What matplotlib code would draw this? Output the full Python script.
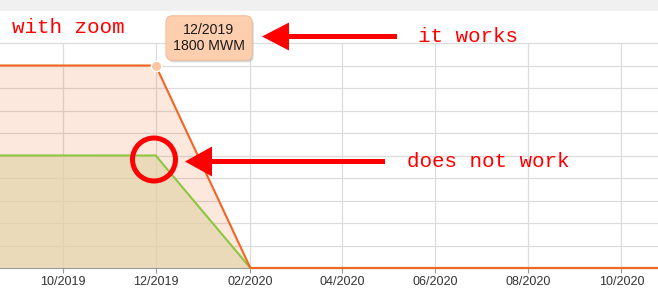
#!/usr/bin/env python

"""
Stacked area chart with a tooltip and hand-drawn notes
"""

import datetime as dt
import matplotlib
matplotlib.use('Agg')
import matplotlib.pyplot as plt
import matplotlib.dates as mdates
import matplotlib.patches as mpatches
import matplotlib.patheffects as pe


# data (bimonthly points)
dates = [dt.date(2019, 8, 1), dt.date(2019, 10, 1), dt.date(2019, 12, 1),
         dt.date(2020, 2, 1), dt.date(2020, 4, 1), dt.date(2020, 6, 1),
         dt.date(2020, 8, 1), dt.date(2020, 10, 1), dt.date(2020, 12, 1)]
orange_vals = [1800, 1800, 1800, 0, 0, 0, 0, 0, 0]
green_vals = [1000, 1000, 1000, 0, 0, 0, 0, 0, 0]
unit = 'MWM'
hover_idx = 2

notes = ['with zoom', 'it works', 'does not work']

W, H = 658, 300
ORANGE = '#f26522'
GREEN = '#8dc63f'


def fx(x):
    return x / W


def fy(y):
    # pixel row from top -> figure fraction
    return 1 - y / H


if __name__ == "__main__":
    plt.rcParams['font.family'] = ['Liberation Sans', 'DejaVu Sans']
    fig = plt.figure(figsize=(W / 100, H / 100), dpi=100)

    # grey strip at the very top
    fig.patches.append(mpatches.Rectangle((0, fy(11)), 1, 11 / H, transform=fig.transFigure,
                                          facecolor='#f0f0f0', edgecolor='none', zorder=0))

    ax = fig.add_axes([0, (H - 268) / H, 1, 225 / H])
    ax.set_xlim(dt.date(2019, 8, 21), dt.date(2020, 10, 25))
    ax.set_ylim(0, 2000)

    for v in range(200, 2001, 200):
        ax.axhline(v, color='#dcdcdc', lw=0.9, zorder=0.5, clip_on=False)
    loc = mdates.MonthLocator(bymonth=[2, 4, 6, 8, 10, 12])
    ax.xaxis.set_major_locator(loc)
    ax.xaxis.set_major_formatter(mdates.DateFormatter('%m/%Y'))
    for d in [dt.date(2019, 10, 1), dt.date(2019, 12, 1), dt.date(2020, 2, 1),
              dt.date(2020, 4, 1), dt.date(2020, 6, 1), dt.date(2020, 8, 1),
              dt.date(2020, 10, 1)]:
        ax.axvline(d, color='#dcdcdc', lw=0.9, zorder=0.5)

    ax.fill_between(dates, orange_vals, color=ORANGE, alpha=0.15, lw=0, zorder=1)
    ax.fill_between(dates, green_vals, color='#e2d5ac', alpha=0.7, lw=0, zorder=1.2)
    ax.plot(dates, green_vals, color=GREEN, lw=1.5, zorder=3, clip_on=False)
    ax.plot(dates, orange_vals, color=ORANGE, lw=1.5, zorder=3.2, clip_on=False)
    ax.plot([dates[hover_idx]], [orange_vals[hover_idx]], 'o', ms=7.5, mfc='#fcc4a0',
            mec='white', mew=1, zorder=4, clip_on=False)

    ax.set_yticks([])
    for s in ['left', 'right', 'top']:
        ax.spines[s].set_visible(False)
    ax.spines['bottom'].set_color('#999999')
    ax.spines['bottom'].set_zorder(2)
    ax.tick_params(axis='x', length=3.6, width=0.8, color='#999999', pad=2.5,
                   labelsize=9, labelcolor='#333333')

    # tooltip
    tip = '%s\n%d %s' % (dates[hover_idx].strftime('%m/%Y'), orange_vals[hover_idx], unit)
    t = fig.text(fx(209), fy(38), tip, ha='center', va='center', fontsize=10.2,
                 color='#1a1a1a', linespacing=1.2,
                 bbox=dict(boxstyle='round,pad=0.5,rounding_size=0.45',
                           facecolor='#fdcfae', edgecolor='#f3bd98', lw=0.8))
    t.get_bbox_patch().set_path_effects([
        pe.SimplePatchShadow(offset=(1.2, -1.5), shadow_rgbFace='#888888', alpha=0.35),
        pe.Normal()])

    # red notes
    red = '#ff0000'
    mono = ['Liberation Mono', 'DejaVu Sans Mono']
    fig.text(fx(12), fy(33), notes[0], family=mono, fontsize=15, color=red, va='baseline')
    fig.text(fx(418), fy(42), notes[1], family=mono, fontsize=15, color=red, va='baseline')
    fig.text(fx(407), fy(167), notes[2], family=mono, fontsize=15, color=red, va='baseline')

    fig.patches.append(mpatches.FancyArrow(fx(397), fy(36.5), fx(262) - fx(397), 0,
                                           width=5 / H, head_width=28 / H, head_length=27 / W,
                                           length_includes_head=True, transform=fig.transFigure,
                                           color=red, lw=0, zorder=5))
    fig.patches.append(mpatches.FancyArrow(fx(385), fy(161.5), fx(185) - fx(385), 0,
                                           width=5 / H, head_width=30 / H, head_length=27 / W,
                                           length_includes_head=True, transform=fig.transFigure,
                                           color=red, lw=0, zorder=5))
    fig.patches.append(mpatches.Ellipse((fx(154), fy(159.5)), 43 / W, 43 / H,
                                        transform=fig.transFigure, facecolor='none',
                                        edgecolor=red, lw=3.6, zorder=5))

    fig.savefig('out.png', dpi=100)
